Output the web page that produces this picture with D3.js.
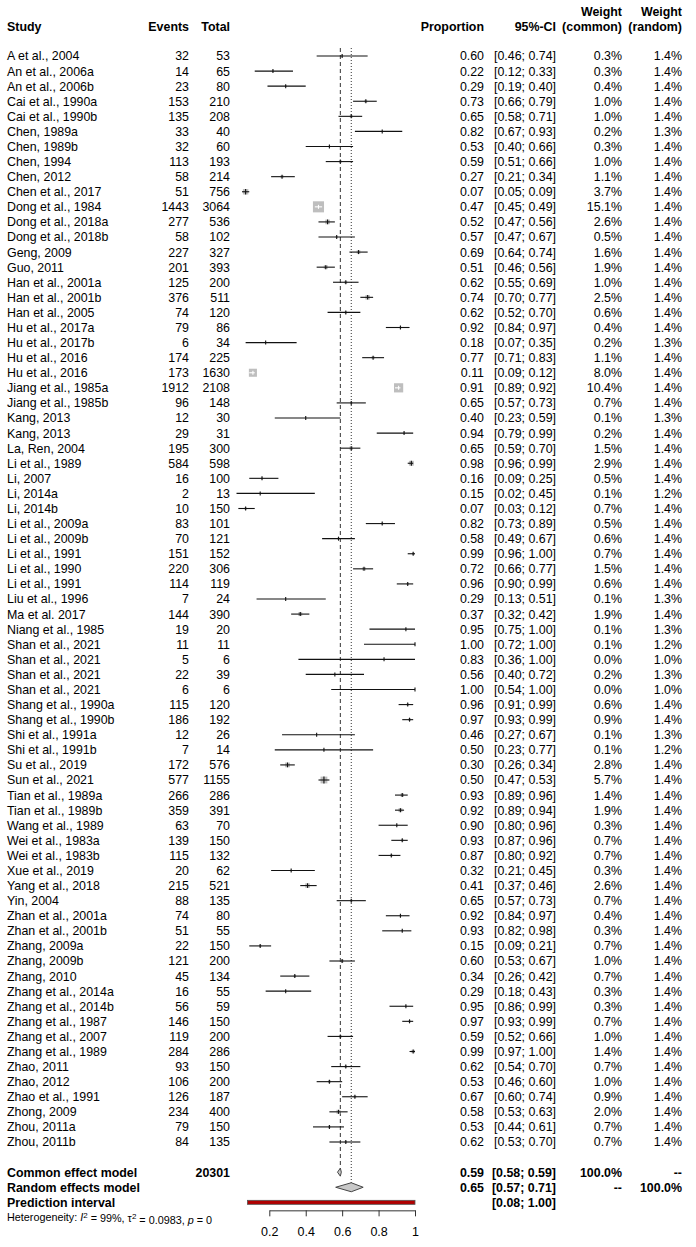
<!DOCTYPE html>
<html>
<head>
<meta charset="utf-8">
<script src="https://cdn.jsdelivr.net/npm/d3@7"></script>
<style>
  body { margin: 0; background: #fff; }
  svg text { font-family: "Liberation Sans", Arial, sans-serif; fill: #000; }
</style>
</head>
<body>
<svg width="696" height="1247"></svg>
<script>
// Study data
const studies = ["A et al., 2004","An et al., 2006a","An et al., 2006b","Cai et al., 1990a","Cai et al., 1990b",
  "Chen, 1989a","Chen, 1989b","Chen, 1994","Chen, 2012","Chen et al., 2017","Dong et al., 1984","Dong et al., 2018a",
  "Dong et al., 2018b","Geng, 2009","Guo, 2011","Han et al., 2001a","Han et al., 2001b","Han et al., 2005",
  "Hu et al., 2017a","Hu et al., 2017b","Hu et al., 2016","Hu et al., 2016","Jiang et al., 1985a","Jiang et al., 1985b",
  "Kang, 2013","Kang, 2013","La, Ren, 2004","Li et al., 1989","Li, 2007","Li, 2014a","Li, 2014b","Li et al., 2009a",
  "Li et al., 2009b","Li et al., 1991","Li et al., 1990","Li et al., 1991","Liu et al., 1996","Ma et al. 2017",
  "Niang et al., 1985","Shan et al., 2021","Shan et al., 2021","Shan et al., 2021","Shan et al., 2021",
  "Shang et al., 1990a","Shang et al., 1990b","Shi et al., 1991a","Shi et al., 1991b","Su et al., 2019",
  "Sun et al., 2021","Tian et al., 1989a","Tian et al., 1989b","Wang et al., 1989","Wei et al., 1983a",
  "Wei et al., 1983b","Xue et al., 2019","Yang et al., 2018","Yin, 2004","Zhan et al., 2001a","Zhan et al., 2001b",
  "Zhang, 2009a","Zhang, 2009b","Zhang, 2010","Zhang et al., 2014a","Zhang et al., 2014b","Zhang et al., 1987",
  "Zhang et al., 2007","Zhang et al., 1989","Zhao, 2011","Zhao, 2012","Zhao et al., 1991","Zhong, 2009",
  "Zhou, 2011a","Zhou, 2011b"];
const events = [32,14,23,153,135,33,32,113,58,51,1443,277,58,227,201,125,376,74,79,6,174,173,1912,96,12,29,195,584,
  16,2,10,83,70,151,220,114,7,144,19,11,5,22,6,115,186,12,7,172,577,266,359,63,139,115,20,215,88,74,51,22,121,45,16,
  56,146,119,284,93,106,126,234,79,84];
const totals = [53,65,80,210,208,40,60,193,214,756,3064,536,102,327,393,200,511,120,86,34,225,1630,2108,148,30,31,300,
  598,100,13,150,101,121,152,306,119,24,390,20,11,6,39,6,120,192,26,14,576,1155,286,391,70,150,132,62,521,135,80,55,
  150,200,134,55,59,150,200,286,150,200,187,400,150,135];
const props = [0.60,0.22,0.29,0.73,0.65,0.82,0.53,0.59,0.27,0.07,0.47,0.52,0.57,0.69,0.51,0.62,0.74,0.62,0.92,0.18,
  0.77,0.11,0.91,0.65,0.40,0.94,0.65,0.98,0.16,0.15,0.07,0.82,0.58,0.99,0.72,0.96,0.29,0.37,0.95,1.00,0.83,0.56,1.00,
  0.96,0.97,0.46,0.50,0.30,0.50,0.93,0.92,0.90,0.93,0.87,0.32,0.41,0.65,0.92,0.93,0.15,0.60,0.34,0.29,0.95,0.97,0.59,
  0.99,0.62,0.53,0.67,0.58,0.53,0.62];
const ciLower = [0.46,0.12,0.19,0.66,0.58,0.67,0.40,0.51,0.21,0.05,0.45,0.47,0.47,0.64,0.46,0.55,0.70,0.52,0.84,0.07,
  0.71,0.09,0.89,0.57,0.23,0.79,0.59,0.96,0.09,0.02,0.03,0.73,0.49,0.96,0.66,0.90,0.13,0.32,0.75,0.72,0.36,0.40,0.54,
  0.91,0.93,0.27,0.23,0.26,0.47,0.89,0.89,0.80,0.87,0.80,0.21,0.37,0.57,0.84,0.82,0.09,0.53,0.26,0.18,0.86,0.93,0.52,
  0.97,0.54,0.46,0.60,0.53,0.44,0.53];
const ciUpper = [0.74,0.33,0.40,0.79,0.71,0.93,0.66,0.66,0.34,0.09,0.49,0.56,0.67,0.74,0.56,0.69,0.77,0.70,0.97,0.35,
  0.83,0.12,0.92,0.73,0.59,0.99,0.70,0.99,0.25,0.45,0.12,0.89,0.67,1.00,0.77,0.99,0.51,0.42,1.00,1.00,1.00,0.72,1.00,
  0.99,0.99,0.67,0.77,0.34,0.53,0.96,0.94,0.96,0.96,0.92,0.45,0.46,0.73,0.97,0.98,0.21,0.67,0.42,0.43,0.99,0.99,0.66,
  1.00,0.70,0.60,0.74,0.63,0.61,0.70];
const weightCommon = [0.3,0.3,0.4,1.0,1.0,0.2,0.3,1.0,1.1,3.7,15.1,2.6,0.5,1.6,1.9,1.0,2.5,0.6,0.4,0.2,1.1,8.0,10.4,
  0.7,0.1,0.2,1.5,2.9,0.5,0.1,0.7,0.5,0.6,0.7,1.5,0.6,0.1,1.9,0.1,0.1,0.0,0.2,0.0,0.6,0.9,0.1,0.1,2.8,5.7,1.4,1.9,0.3,
  0.7,0.7,0.3,2.6,0.7,0.4,0.3,0.7,1.0,0.7,0.3,0.3,0.7,1.0,1.4,0.7,1.0,0.9,2.0,0.7,0.7];
const weightRandom = [1.4,1.4,1.4,1.4,1.4,1.3,1.4,1.4,1.4,1.4,1.4,1.4,1.4,1.4,1.4,1.4,1.4,1.4,1.4,1.3,1.4,1.4,1.4,
  1.4,1.3,1.4,1.4,1.4,1.4,1.2,1.4,1.4,1.4,1.4,1.4,1.4,1.3,1.4,1.3,1.2,1.0,1.3,1.0,1.4,1.4,1.3,1.2,1.4,1.4,1.4,1.4,1.4,
  1.4,1.4,1.4,1.4,1.4,1.4,1.4,1.4,1.4,1.4,1.4,1.4,1.4,1.4,1.4,1.4,1.4,1.4,1.4,1.4,1.4];

// Pooled results
const totalN = 20301;
const commonEst = 0.59, commonCI = [0.58, 0.59];
const randomEst = 0.65, randomCI = [0.57, 0.71];
const predCI = [0.08, 1.00];
const tickValues = [0.2, 0.4, 0.6, 0.8, 1];

const svg = d3.select("svg");
const fmt2 = d3.format(".2f");
const fmt1 = d3.format(".1f");
const FS = 12.4;

// x scale for proportion, y scale for row index
const x = d3.scaleLinear().domain([0.2, 1]).range([269.3, 415]);
const y = d3.scaleLinear().domain([0, 72]).range([56, 1142]);
const nStudy = studies.length;
const rowCommon = nStudy + 1, rowRandom = nStudy + 2, rowPred = nStudy + 3, rowHet = nStudy + 4;

// columns
const col = {study: 7, events: 189, total: 230, prop: 484, ci: 556, wc: 622, wr: 682};

function txt(g, xx, yy, s, anchor, bold, size) {
  return g.append("text")
    .attr("x", xx).attr("y", yy).attr("dy", "0.36em")
    .attr("text-anchor", anchor || "start")
    .attr("font-size", (size || FS) + "px")
    .attr("font-weight", bold ? "bold" : "normal")
    .text(s);
}

// Header
const head = svg.append("g");
txt(head, col.study, 27, "Study", "start", true);
txt(head, col.events, 27, "Events", "end", true);
txt(head, col.total, 27, "Total", "end", true);
txt(head, col.prop, 27, "Proportion", "end", true);
txt(head, col.ci, 27, "95%-CI", "end", true);
txt(head, col.wc, 12, "Weight", "end", true);
txt(head, col.wc, 27, "(common)", "end", true);
txt(head, col.wr, 12, "Weight", "end", true);
txt(head, col.wr, 27, "(random)", "end", true);

// Reference lines (common: dashed, random: dotted)
svg.append("line")
  .attr("x1", x(commonEst)).attr("x2", x(commonEst))
  .attr("y1", y(0) - 8).attr("y2", y(rowCommon) - 3)
  .attr("stroke", "#333").attr("stroke-width", 1).attr("stroke-dasharray", "4,3");
svg.append("line")
  .attr("x1", x(randomEst)).attr("x2", x(randomEst))
  .attr("y1", y(0) - 8).attr("y2", y(rowRandom) - 4)
  .attr("stroke", "#333").attr("stroke-width", 1).attr("stroke-dasharray", "1,2");

// Study rows
const rows = svg.append("g").selectAll("g")
  .data(studies.map((s, i) => ({
    study: s, events: events[i], total: totals[i], p: props[i],
    lo: ciLower[i], hi: ciUpper[i], wc: weightCommon[i], wr: weightRandom[i], i: i
  })))
  .join("g")
  .attr("transform", d => `translate(0,${y(d.i)})`);

rows.each(function(d) {
  const g = d3.select(this);
  txt(g, col.study, 0, d.study);
  txt(g, col.events, 0, d.events, "end");
  txt(g, col.total, 0, d.total, "end");
  txt(g, col.prop, 0, fmt2(d.p), "end");
  txt(g, col.ci, 0, `[${fmt2(d.lo)}; ${fmt2(d.hi)}]`, "end");
  txt(g, col.wc, 0, fmt1(d.wc) + "%", "end");
  txt(g, col.wr, 0, fmt1(d.wr) + "%", "end");

  const s = 2.85 * Math.sqrt(d.wc);
  const cx = x(d.p);
  g.append("rect")
    .attr("x", cx - s / 2).attr("y", -s / 2)
    .attr("width", s).attr("height", s)
    .attr("fill", "#bebebe");
  const inside = x(d.hi) - x(d.lo) < s;
  g.append("line")
    .attr("x1", x(d.lo)).attr("x2", x(d.hi))
    .attr("y1", 0).attr("y2", 0)
    .attr("stroke", inside ? "#fff" : "#111").attr("stroke-width", 1.1);
  const th = inside ? Math.min(s - 3, 4) : Math.max(s, 4);
  g.append("line")
    .attr("x1", cx).attr("x2", cx)
    .attr("y1", -th / 2).attr("y2", th / 2)
    .attr("stroke", inside ? "#fff" : "#111").attr("stroke-width", 1.1);
});

// Summary rows
const sum = svg.append("g");
txt(sum, col.study, y(rowCommon), "Common effect model", "start", true);
txt(sum, col.total, y(rowCommon), totalN, "end", true);
txt(sum, col.prop, y(rowCommon), fmt2(commonEst), "end", true);
txt(sum, col.ci, y(rowCommon), `[${fmt2(commonCI[0])}; ${fmt2(commonCI[1])}]`, "end", true);
txt(sum, col.wc, y(rowCommon), "100.0%", "end", true);
txt(sum, col.wr, y(rowCommon), "--", "end", true);

txt(sum, col.study, y(rowRandom), "Random effects model", "start", true);
txt(sum, col.prop, y(rowRandom), fmt2(randomEst), "end", true);
txt(sum, col.ci, y(rowRandom), `[${fmt2(randomCI[0])}; ${fmt2(randomCI[1])}]`, "end", true);
txt(sum, col.wc, y(rowRandom), "--", "end", true);
txt(sum, col.wr, y(rowRandom), "100.0%", "end", true);

txt(sum, col.study, y(rowPred), "Prediction interval", "start", true);
txt(sum, col.ci, y(rowPred), `[${fmt2(predCI[0])}; ${fmt2(predCI[1])}]`, "end", true);

function diamond(est, ci, row, h) {
  const yy = y(row);
  sum.append("path")
    .attr("d", `M${x(ci[0]) - 1},${yy} L${x(est)},${yy - h} L${x(ci[1]) + 1},${yy} L${x(est)},${yy + h} Z`)
    .attr("fill", "#c8c8c8").attr("stroke", "#444").attr("stroke-width", 1);
}
diamond(commonEst, commonCI, rowCommon, 4);
diamond(randomEst, randomCI, rowRandom, 4.5);

// Prediction interval bar
sum.append("rect")
  .attr("x", x(predCI[0])).attr("y", y(rowPred) - 2)
  .attr("width", x(predCI[1]) - x(predCI[0])).attr("height", 4)
  .attr("fill", "#b00000").attr("stroke", "#555").attr("stroke-width", 0.8);

// Heterogeneity
const het = sum.append("text")
  .attr("x", col.study).attr("y", y(rowHet)).attr("dy", "0.36em")
  .attr("font-size", "10.8px");
het.append("tspan").text("Heterogeneity: ");
het.append("tspan").attr("font-style", "italic").text("I");
het.append("tspan").attr("dy", "-0.4em").attr("font-size", "8px").text("2");
het.append("tspan").attr("dy", "0.4em").text(" = 99%, \u03c4");
het.append("tspan").attr("dy", "-0.4em").attr("font-size", "8px").text("2");
het.append("tspan").attr("dy", "0.4em").text(" = 0.0983, ");
het.append("tspan").attr("font-style", "italic").text("p");
het.append("tspan").text(" = 0");

// Axis
const axis = svg.append("g")
  .attr("transform", `translate(0,${y(rowPred) + 8})`)
  .call(d3.axisBottom(x).tickValues(tickValues).tickSize(6).tickSizeOuter(0).tickPadding(11)
    .tickFormat(d => d === 1 ? "1" : d3.format(".1f")(d)));
axis.selectAll("text").attr("font-size", "12.5px").attr("font-family", "Liberation Sans, Arial, sans-serif");
axis.selectAll("path, line").attr("stroke", "#333");
</script>
</body>
</html>
